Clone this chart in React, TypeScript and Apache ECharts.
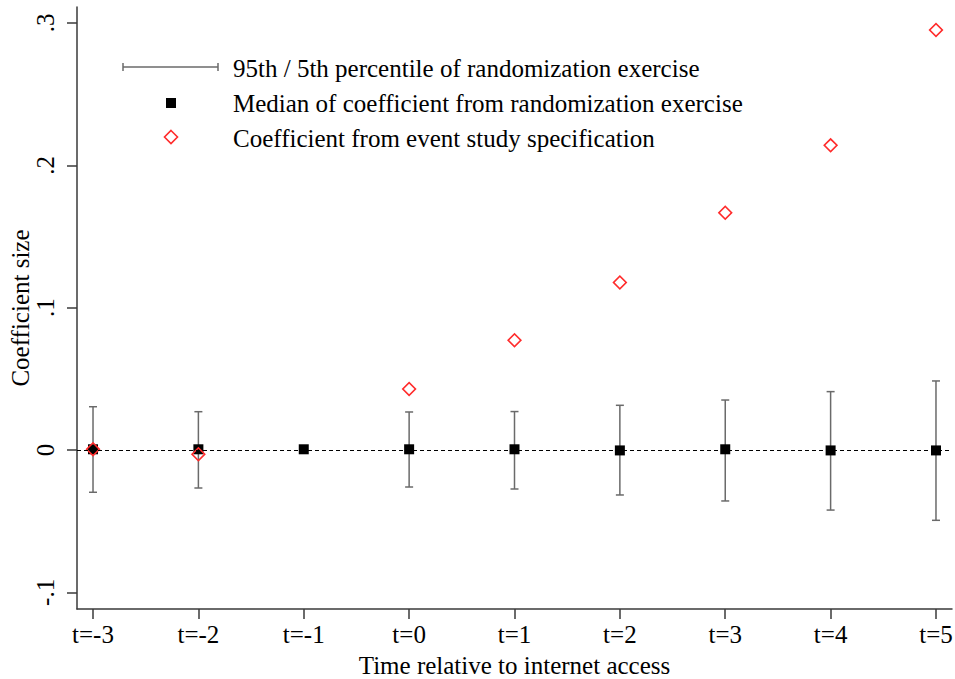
import React, { useEffect, useRef } from "react";
import * as echarts from "echarts";

// Event time relative to internet access
const periods = [-3, -2, -1, 0, 1, 2, 3, 4, 5];
// Median coefficient from the randomization exercise
const medians = [0.0005, 0.0005, 0.0005, 0.0005, 0.0005, -0.0003, 0.0005, -0.0003, -0.0003];
// 5th and 95th percentiles of the randomization exercise (none for the omitted period t=-1)
const p5 = [-0.0297, -0.0267, null, -0.026, -0.0274, -0.0316, -0.0358, -0.0422, -0.0494];
const p95 = [0.0304, 0.0269, null, 0.0267, 0.027, 0.0314, 0.0351, 0.041, 0.0485];
// Event study coefficients (t=-1 is the omitted reference period)
const coefs = [0.0005, -0.003, null, 0.0429, 0.0771, 0.1176, 0.1666, 0.214, 0.295];
// Y tick values
const yTicks = [-0.1, 0, 0.1, 0.2, 0.3];

const legendLabels = [
  "95th / 5th percentile of randomization exercise",
  "Median of coefficient from randomization exercise",
  "Coefficient from event study specification",
];

const FONT = "'Liberation Serif', 'DejaVu Serif', serif";
const FS = 25;

function fmtY(v: number): string {
  if (Math.abs(v) < 1e-9) return "0";
  const s = String(Math.round(v * 10) / 10);
  return s.replace("0.", ".");
}

export default function App() {
  const ref = useRef<HTMLDivElement>(null);

  useEffect(() => {
    if (!ref.current) return;
    const chart = echarts.init(ref.current, null, { renderer: "svg" });

    const barData = periods
      .map((t, i) => (p5[i] === null ? null : [t, p5[i], p95[i]]))
      .filter((d) => d !== null);
    const medianData = periods.map((t, i) => [t, medians[i]]);
    const coefData = periods
      .map((t, i) => (coefs[i] === null ? null : [t, coefs[i]]))
      .filter((d) => d !== null);

    const axisColor = "#3a3a3a";
    const barColor = "#6a6a6a";

    chart.setOption({
      animation: false,
      backgroundColor: "#fff",
      grid: {
        left: 77,
        right: 3,
        top: 7,
        bottom: 70,
        containLabel: false,
        outerBoundsMode: "none",
      },
      xAxis: {
        type: "value",
        min: -3.152,
        max: 5.152,
        name: "Time relative to internet access",
        nameLocation: "middle",
        nameGap: 44,
        nameMoveOverlap: false,
        nameTextStyle: { fontFamily: FONT, fontSize: FS, color: "#000" },
        axisLine: { show: true, onZero: false, lineStyle: { color: axisColor, width: 1.5 } },
        axisTick: {
          show: true,
          length: 10,
          customValues: periods,
          lineStyle: { color: axisColor, width: 1.5 },
        },
        axisLabel: {
          customValues: periods,
          formatter: (v: number) => "t=" + v,
          fontFamily: FONT,
          fontSize: FS,
          color: "#000",
          margin: 13,
        },
        splitLine: { show: false },
      },
      yAxis: {
        type: "value",
        min: -0.1117,
        max: 0.3112,
        name: "Coefficient size",
        nameLocation: "middle",
        nameGap: 44,
        nameMoveOverlap: false,
        nameTextStyle: { fontFamily: FONT, fontSize: FS, color: "#000" },
        axisLine: { show: true, onZero: false, lineStyle: { color: axisColor, width: 1.5 } },
        axisTick: {
          show: true,
          length: 10,
          customValues: yTicks,
          lineStyle: { color: axisColor, width: 1.5 },
        },
        axisLabel: {
          customValues: yTicks,
          formatter: (v: number) => fmtY(v),
          rotate: 90,
          fontFamily: FONT,
          fontSize: FS,
          color: "#000",
          margin: 19,
        },
        splitLine: { show: false },
      },
      series: [
        {
          type: "custom",
          name: "percentiles",
          data: barData,
          z: 2,
          renderItem: (params: any, api: any) => {
            const x = api.value(0);
            const lo = api.coord([x, api.value(1)]);
            const hi = api.coord([x, api.value(2)]);
            const hw = 4;
            const style = { stroke: barColor, lineWidth: 1.5 };
            return {
              type: "group",
              children: [
                { type: "line", shape: { x1: lo[0], y1: lo[1], x2: hi[0], y2: hi[1] }, style },
                { type: "line", shape: { x1: lo[0] - hw, y1: lo[1], x2: lo[0] + hw, y2: lo[1] }, style },
                { type: "line", shape: { x1: hi[0] - hw, y1: hi[1], x2: hi[0] + hw, y2: hi[1] }, style },
              ],
            };
          },
        },
        {
          type: "scatter",
          name: "median",
          data: medianData,
          symbol: "rect",
          symbolSize: 10,
          itemStyle: { color: "#000", opacity: 1 },
          z: 3,
          markLine: {
            silent: true,
            symbol: "none",
            label: { show: false },
            lineStyle: { color: "#000", width: 1, type: [4, 3], opacity: 1 },
            data: [{ yAxis: 0 }],
          },
        },
        {
          type: "scatter",
          name: "coefficient",
          data: coefData,
          symbol: "rect",
          symbolRotate: 45,
          symbolSize: 9,
          itemStyle: {
            color: "rgba(0,0,0,0)",
            borderColor: "#ff2b2b",
            borderWidth: 1.6,
            opacity: 1,
          },
          z: 4,
        },
      ],
      graphic: [
        // percentile whisker key
        { type: "line", shape: { x1: 123, y1: 67, x2: 218, y2: 67 }, style: { stroke: barColor, lineWidth: 1.5 } },
        { type: "line", shape: { x1: 123, y1: 63, x2: 123, y2: 71 }, style: { stroke: barColor, lineWidth: 1.5 } },
        { type: "line", shape: { x1: 218, y1: 63, x2: 218, y2: 71 }, style: { stroke: barColor, lineWidth: 1.5 } },
        // median key
        { type: "rect", shape: { x: 166, y: 98, width: 10, height: 10 }, style: { fill: "#000" } },
        // coefficient key
        {
          type: "polygon",
          shape: { points: [[171, 130.5], [177.5, 137], [171, 143.5], [164.5, 137]] },
          style: { fill: "none", stroke: "#ff2b2b", lineWidth: 1.6 },
        },
        ...legendLabels.map((txt, i) => ({
          type: "text",
          x: 233,
          y: [68, 103, 138][i],
          style: {
            text: txt,
            fontFamily: FONT,
            fontSize: FS,
            fill: "#000",
            verticalAlign: "middle",
            align: "left",
          },
        })),
      ],
    });

    return () => chart.dispose();
  }, []);

  return (
    <div
      ref={ref}
      style={{ position: "fixed", left: 0, top: 0, width: 955, height: 679, background: "#fff" }}
    />
  );
}
